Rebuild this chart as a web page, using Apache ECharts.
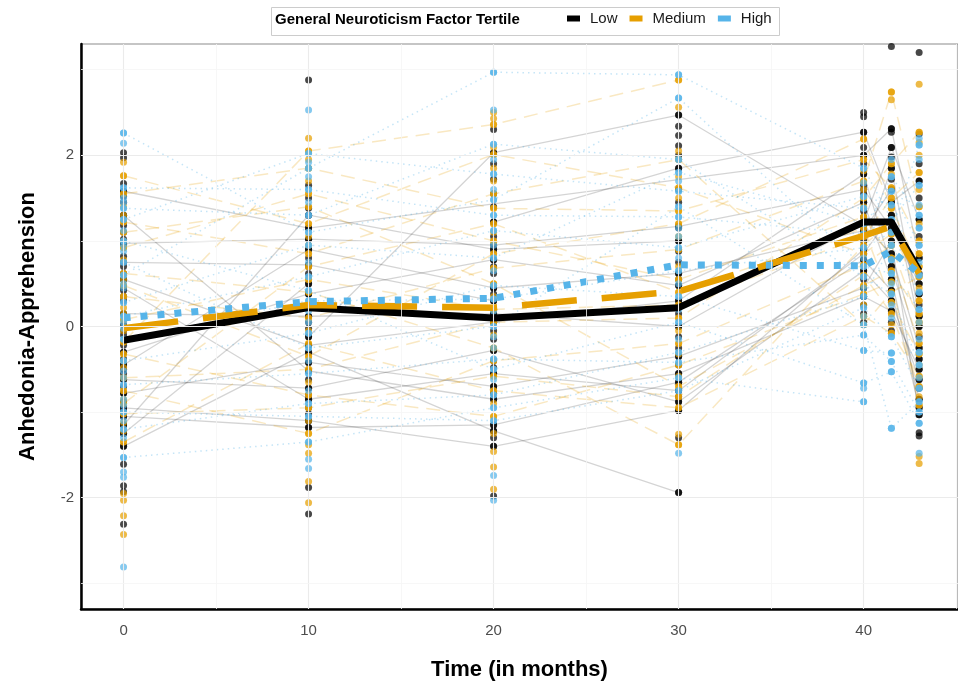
<!DOCTYPE html>
<html>
<head>
<meta charset="utf-8">
<script src="https://cdn.jsdelivr.net/npm/echarts@6/dist/echarts.min.js"></script>
<style>
html, body { margin: 0; padding: 0; background: #fff; }
#main { width: 958px; height: 686px; }
</style>
</head>
<body>
<div id="main"></div>
<script>
var times = [0, 10, 20, 30, 40, 41.5, 43];
var xTicks = [0, 10, 20, 30, 40];
var yTicks = [-2, 0, 2];
var xGrid = [0, 5, 10, 15, 20, 25, 30, 35, 40, 45];
var yGrid = [-3, -2, -1, 0, 1, 2, 3];

// group means
var meanLow = [-0.16, 0.22, 0.10, 0.22, 1.22, 1.22, 0.65];
var meanMedium = [-0.02, 0.25, 0.22, 0.41, 1.06, 1.17, 0.62];
var meanHigh = [0.10, 0.29, 0.33, 0.72, 0.71, 0.88, 0.62];

// observed scores per time point (one list per time)
var lowPoints = [
    [2.03, 1.97, 1.67, 1.58, 1.52, 1.45, 1.30, 1.18, 1.10, 1.02, 0.96, 0.82, 0.70, 0.62, 0.55, 0.42, 0.35, 0.30, 0.15, 0.02, -0.05, -0.10, -0.22, -0.30, -0.38, -0.45, -0.50, -0.55, -0.62, -0.70, -0.78, -0.88, -0.95, -1.00, -1.05, -1.15, -1.25, -1.40, -1.61, -1.86, -1.93, -2.31],
    [2.88, 1.65, 1.50, 1.38, 1.30, 1.15, 1.02, 0.90, 0.80, 0.70, 0.62, 0.50, 0.38, 0.12, 0.05, -0.02, -0.12, -0.22, -0.30, -0.42, -0.52, -0.62, -0.72, -0.80, -0.85, -0.95, -1.02, -1.10, -1.18, -1.88, -2.19],
    [2.30, 2.03, 1.90, 1.72, 1.55, 1.40, 1.22, 1.05, 0.90, 0.78, 0.70, 0.62, 0.45, 0.38, 0.30, 0.15, 0.05, -0.05, -0.15, -0.28, -0.40, -0.48, -0.55, -0.70, -0.78, -0.85, -1.15, -1.22, -1.30, -1.40, -1.98],
    [2.47, 2.34, 2.23, 2.11, 2.00, 1.85, 1.60, 1.45, 1.15, 1.00, 0.88, 0.75, 0.62, 0.55, 0.48, 0.30, 0.15, 0.00, -0.12, -0.25, -0.35, -0.45, -0.55, -0.65, -0.75, -0.82, -0.88, -0.98, -1.30, -1.94],
    [2.50, 2.45, 2.27, 2.09, 2.00, 1.90, 1.78, 1.65, 1.55, 1.45, 1.35, 1.28, 1.22, 1.12, 1.00, 0.90, 0.78, 0.65, 0.55, 0.45, 0.35, 0.25, 0.15, 0.05],
    [3.27, 2.31, 2.27, 2.09, 1.98, 1.85, 1.72, 1.60, 1.45, 1.30, 1.22, 1.15, 1.00, 0.85, 0.70, 0.55, 0.42, 0.30, 0.18, 0.05, -0.05],
    [3.20, 2.25, 1.90, 1.70, 1.50, 1.25, 1.05, 0.80, 0.62, 0.50, 0.38, 0.25, 0.12, 0.00, -0.12, -0.25, -0.38, -0.50, -0.62, -0.72, -0.85, -0.95, -1.03, -1.24, -1.28]
];
var mediumPoints = [
    [1.92, 1.76, 1.55, 1.40, 1.30, 1.22, 1.10, 1.00, 0.92, 0.78, 0.62, 0.55, 0.48, 0.35, 0.22, 0.15, 0.08, -0.05, -0.18, -0.32, -0.40, -0.48, -0.60, -0.75, -0.85, -0.90, -1.02, -1.12, -1.22, -1.35, -1.95, -2.03, -2.21, -2.43],
    [2.20, 2.05, 1.95, 1.85, 1.70, 1.55, 1.40, 1.20, 1.05, 0.95, 0.85, 0.70, 0.55, 0.40, 0.25, 0.10, -0.05, -0.20, -0.35, -0.50, -0.65, -0.80, -0.95, -1.10, -1.25, -1.38, -1.48, -1.81, -2.06],
    [2.50, 2.43, 2.36, 2.09, 2.01, 1.85, 1.70, 1.55, 1.38, 1.20, 1.10, 1.00, 0.85, 0.68, 0.50, 0.35, 0.20, 0.05, -0.10, -0.25, -0.40, -0.58, -0.75, -0.90, -1.05, -1.25, -1.46, -1.64, -1.90],
    [2.88, 2.56, 2.05, 1.95, 1.75, 1.62, 1.50, 1.35, 1.20, 1.05, 0.90, 0.70, 0.55, 0.40, 0.25, 0.10, -0.05, -0.20, -0.32, -0.45, -0.58, -0.70, -0.82, -0.95, -1.26, -1.38],
    [2.19, 1.95, 1.82, 1.70, 1.60, 1.50, 1.40, 1.28, 1.15, 1.05, 0.95, 0.85, 0.72, 0.60, 0.48, 0.38, 0.25, 0.12, 0.02],
    [2.74, 2.65, 1.90, 1.78, 1.62, 1.50, 1.38, 1.22, 1.08, 0.95, 0.80, 0.65, 0.52, 0.40, 0.28, 0.15, 0.02, -0.08],
    [2.83, 2.27, 2.15, 2.00, 1.80, 1.60, 1.40, 1.20, 1.00, 0.85, 0.70, 0.58, 0.45, 0.30, 0.15, 0.05, -0.08, -0.20, -0.32, -0.45, -0.58, -0.70, -0.82, -0.92, -1.52, -1.60]
];
var highPoints = [
    [2.26, 2.14, 1.62, 1.50, 1.45, 1.38, 1.25, 1.12, 1.00, 0.95, 0.88, 0.75, 0.60, 0.50, 0.45, 0.28, 0.12, 0.05, -0.02, -0.15, -0.40, -0.52, -0.60, -0.68, -0.85, -0.92, -1.00, -1.10, -1.20, -1.30, -1.53, -1.70, -1.76, -2.81],
    [2.53, 2.02, 1.92, 1.85, 1.75, 1.60, 1.45, 1.30, 1.10, 0.95, 0.75, 0.58, 0.42, 0.30, 0.18, 0.05, -0.08, -0.25, -0.40, -0.55, -0.75, -0.90, -1.05, -1.35, -1.55, -1.66],
    [2.97, 2.53, 2.13, 1.95, 1.78, 1.60, 1.48, 1.30, 1.12, 0.95, 0.80, 0.65, 0.48, 0.32, 0.18, 0.00, -0.12, -0.25, -0.38, -0.50, -0.62, -0.80, -0.95, -1.10, -1.74, -2.03],
    [2.94, 2.67, 1.95, 1.80, 1.70, 1.58, 1.40, 1.28, 1.15, 1.05, 0.92, 0.80, 0.65, 0.50, 0.35, 0.20, 0.05, -0.15, -0.30, -0.42, -0.60, -0.75, -1.48],
    [1.85, 1.68, 1.52, 1.38, 1.20, 1.08, 0.92, 0.80, 0.70, 0.58, 0.45, 0.35, 0.22, 0.12, 0.02, -0.10, -0.28, -0.66, -0.72, -0.88],
    [1.95, 1.75, 1.58, 1.42, 1.25, 1.10, 0.95, 0.78, 0.62, 0.50, 0.38, 0.25, 0.10, -0.12, -0.31, -0.41, -0.53, -1.19],
    [2.20, 2.12, 1.95, 1.65, 1.42, 1.30, 1.15, 0.95, 0.75, 0.60, 0.40, 0.20, 0.05, -0.15, -0.30, -0.45, -0.60, -0.72, -0.88, -1.00, -1.13, -1.48]
];

// individual trajectories (one row per participant, null = not observed)
var lowSubjects = [
    [0.97, 1.02, 0.95, 1.17, 1.60, 1.15, 0.50],
    [0.75, 0.72, 0.30, null, null, null, null],
    [-1.15, 1.30, 0.90, 1.00, null, null, null],
    [0.45, -0.85, -0.55, -0.75, 0.85, 1.30, 0.38],
    [-1.40, -0.30, -1.22, -1.94, null, null, null],
    [-1.25, 0.50, null, null, null, null, null],
    [null, -0.12, 2.03, 2.47, 1.18, 0.85, -0.25],
    [-0.62, -0.72, -0.28, -0.88, 0.65, 0.30, -0.62],
    [-0.95, -1.10, -1.40, -0.98, 0.90, 1.85, 0.12],
    [0.15, 0.12, 0.15, 0.00, 1.22, 2.09, 1.25],
    [-0.30, 0.38, 0.78, 0.48, 1.45, 0.55, -0.85],
    [1.58, 1.15, null, null, 2.00, 2.31, 0.80],
    [-0.78, -0.42, -0.70, -0.35, 0.45, 1.00, -1.03],
    [0.55, -0.22, 0.05, 0.30, 1.78, 0.70, -0.38],
    [-0.45, 0.90, 0.45, 0.62, 1.12, 1.60, 0.00],
    [1.30, -0.52, -0.85, -0.55, 0.35, 0.18, -0.50],
    [null, null, 1.22, 1.85, 2.27, 1.45, 1.70],
    [-1.05, -1.18, -1.15, -0.65, 0.78, 0.42, -0.95]
];
var mediumSubjects = [
    [-0.18, 2.05, 2.36, 2.88, null, null, null],
    [1.22, 0.85, 1.55, 1.95, 0.02, 0.40, 0.58],
    [0.62, 0.40, -0.25, -1.38, 0.95, 1.22, 0.30],
    [-0.60, -0.50, 0.05, 0.10, 1.50, 1.90, 2.27],
    [0.92, 1.55, 1.00, 0.55, 1.28, 0.80, -0.20],
    [-1.02, -0.95, -0.58, -0.82, 0.60, 0.15, -0.70],
    [0.35, 0.10, 0.68, 0.90, 1.70, 2.74, 1.40],
    [1.76, 1.20, 2.01, 1.62, 0.85, 1.08, 0.85],
    [-0.32, -0.80, -1.05, -0.45, 0.38, 0.52, -0.92],
    [0.08, 0.55, 0.20, 0.25, 1.05, 1.50, 1.80],
    [-1.35, -0.20, -0.75, -0.95, 0.12, -0.08, -0.58],
    [1.55, 1.85, 1.38, 1.35, 1.95, 1.62, 1.00],
    [-0.75, -1.25, -0.40, -0.20, 0.72, 0.95, 0.05],
    [0.48, -0.35, 0.85, 1.20, 2.19, 1.38, 0.70],
    [-0.90, 0.70, 1.20, 0.40, 1.15, 0.28, -0.32],
    [1.10, 1.40, 0.50, -0.70, 0.48, 0.65, 0.15]
];
var highSubjects = [
    [2.26, 1.10, 1.48, 2.67, 0.70, 0.62, 0.20],
    [1.38, 1.30, 2.13, 1.95, 0.58, 0.38, -0.45],
    [0.28, 0.95, 0.80, 1.80, 1.20, 1.58, 0.95],
    [-0.68, -0.55, -0.38, -0.42, -0.10, -0.41, -1.00],
    [1.00, 0.42, -0.50, 0.05, -0.66, -0.53, -1.13],
    [-1.20, -0.90, -0.80, -0.30, 0.35, 0.95, 0.40],
    [0.60, 1.85, 2.97, 2.94, 1.85, 1.25, 1.65],
    [-0.15, 0.30, 0.32, 0.65, 0.92, 1.10, 2.12],
    [1.62, 1.60, 1.30, 1.28, 1.08, 1.75, 1.30],
    [-1.00, -1.05, -1.10, -0.75, 0.22, -0.12, -0.72],
    [0.75, -0.25, 0.00, 1.40, 0.02, -1.19, -0.88],
    [0.12, 0.58, 1.12, 0.92, 1.52, 1.42, 0.60],
    [-0.40, -0.08, 0.48, 0.35, -0.28, -0.31, -0.30],
    [1.25, 2.02, 1.78, 1.58, 1.38, 0.78, 1.15],
    [-1.53, -1.35, -0.95, -0.60, -0.88, null, null]
];

var font = 'Liberation Sans, Arial, Helvetica, sans-serif';
var colors = { Low: '#000000', Medium: '#E69F00', High: '#56B4E9' };
var thinStyle = {
    Low: { color: 'rgba(0,0,0,0.17)', width: 1.3, type: 'solid' },
    Medium: { color: 'rgba(230,159,0,0.24)', width: 1.5, type: [14, 8] },
    High: { color: 'rgba(86,180,233,0.34)', width: 1.5, type: [1.5, 4] }
};
var meanStyle = {
    Low: { width: 7, type: 'solid' },
    Medium: { width: 6.5, type: [55, 25] },
    High: { width: 7, type: [7, 10] }
};

function toXY(row) {
    var out = [];
    for (var i = 0; i < times.length; i++) {
        if (row[i] !== null) out.push([times[i], row[i]]);
    }
    return out;
}

var series = [];

// background grid lines
var gridLines = [];
xGrid.forEach(function (v) {
    gridLines.push({ xAxis: v, lineStyle: { color: v % 10 === 0 ? '#ebebeb' : '#f5f5f5', width: v % 10 === 0 ? 1.1 : 0.8, type: 'solid' } });
});
yGrid.forEach(function (v) {
    gridLines.push({ yAxis: v, lineStyle: { color: v % 2 === 0 ? '#ebebeb' : '#f5f5f5', width: v % 2 === 0 ? 1.1 : 0.8, type: 'solid' } });
});
series.push({
    type: 'line', name: 'grid', data: [], z: 0, silent: true,
    markLine: { silent: true, symbol: 'none', label: { show: false }, animation: false, data: gridLines }
});

var subjects = { Low: lowSubjects, Medium: mediumSubjects, High: highSubjects };
var points = { Low: lowPoints, Medium: mediumPoints, High: highPoints };
var means = { Low: meanLow, Medium: meanMedium, High: meanHigh };

['Low', 'Medium', 'High'].forEach(function (g) {
    subjects[g].forEach(function (row, k) {
        series.push({
            type: 'line', name: g + '_s' + k, data: toXY(row), z: 1,
            showSymbol: false, silent: true, animation: false,
            lineStyle: thinStyle[g]
        });
    });
});

['Low', 'Medium', 'High'].forEach(function (g) {
    var pts = [];
    points[g].forEach(function (list, i) {
        list.forEach(function (v) { pts.push([times[i], v]); });
    });
    subjects[g].forEach(function (row) {
        toXY(row).forEach(function (p) { pts.push(p); });
    });
    series.push({
        type: 'scatter', name: g + '_pts', data: pts, z: 2,
        symbolSize: 7, silent: true, animation: false,
        itemStyle: { color: colors[g], opacity: 0.72 }
    });
});

['Low', 'Medium', 'High'].forEach(function (g) {
    series.push({
        type: 'line', name: g, data: toXY(means[g]), z: 3,
        showSymbol: false, silent: true, animation: false,
        itemStyle: { color: colors[g] },
        lineStyle: { color: colors[g], width: meanStyle[g].width, type: meanStyle[g].type, cap: 'butt', join: 'round' }
    });
});

var myChart = echarts.init(document.getElementById('main'));
var option = {
    backgroundColor: '#ffffff',
    animation: false,
    textStyle: { fontFamily: font },
    grid: {
        left: 81, right: -2, top: 44, bottom: 75, containLabel: false,
        show: true, borderColor: '#8c8c8c', borderWidth: 1.2, backgroundColor: 'transparent'
    },
    legend: {
        data: ['Low', 'Medium', 'High'],
        left: 562, top: 6,
        icon: 'rect', itemWidth: 13, itemHeight: 6, itemGap: 12,
        itemStyle: { borderWidth: 0 },
        textStyle: { fontSize: 15, color: '#1a1a1a', fontFamily: font, padding: [0, 0, 0, 5] },
        selectedMode: false
    },
    graphic: [
        { type: 'rect', left: 269, top: 5, shape: { width: 508, height: 28 }, style: { fill: 'none', stroke: '#cccccc', lineWidth: 1 } },
        { type: 'text', left: 275, top: 12, style: { text: 'General Neuroticism Factor Tertile', font: 'bold 15px ' + font, fill: '#000' } }
    ],
    xAxis: {
        type: 'value', min: -2.3, max: 45.1,
        name: 'Time (in months)', nameLocation: 'middle', nameGap: 50,
        nameTextStyle: { fontSize: 22, fontWeight: 'bold', color: '#000', fontFamily: font },
        axisLine: { show: true, onZero: false, lineStyle: { color: '#000', width: 2.5 } },
        axisTick: { show: false },
        axisLabel: { customValues: xTicks, fontSize: 15, color: '#4d4d4d', margin: 14, fontFamily: font },
        splitLine: { show: false }
    },
    yAxis: {
        type: 'value', min: -3.3, max: 3.3,
        name: 'Anhedonia-Apprehension', nameLocation: 'middle', nameGap: 42,
        nameTextStyle: { fontSize: 22, fontWeight: 'bold', color: '#000', fontFamily: font },
        axisLine: { show: true, onZero: false, lineStyle: { color: '#000', width: 2.5 } },
        axisTick: { show: false },
        axisLabel: { customValues: yTicks, fontSize: 15, color: '#4d4d4d', margin: 7, fontFamily: font },
        splitLine: { show: false }
    },
    series: series
};
myChart.setOption(option);
</script>
</body>
</html>
